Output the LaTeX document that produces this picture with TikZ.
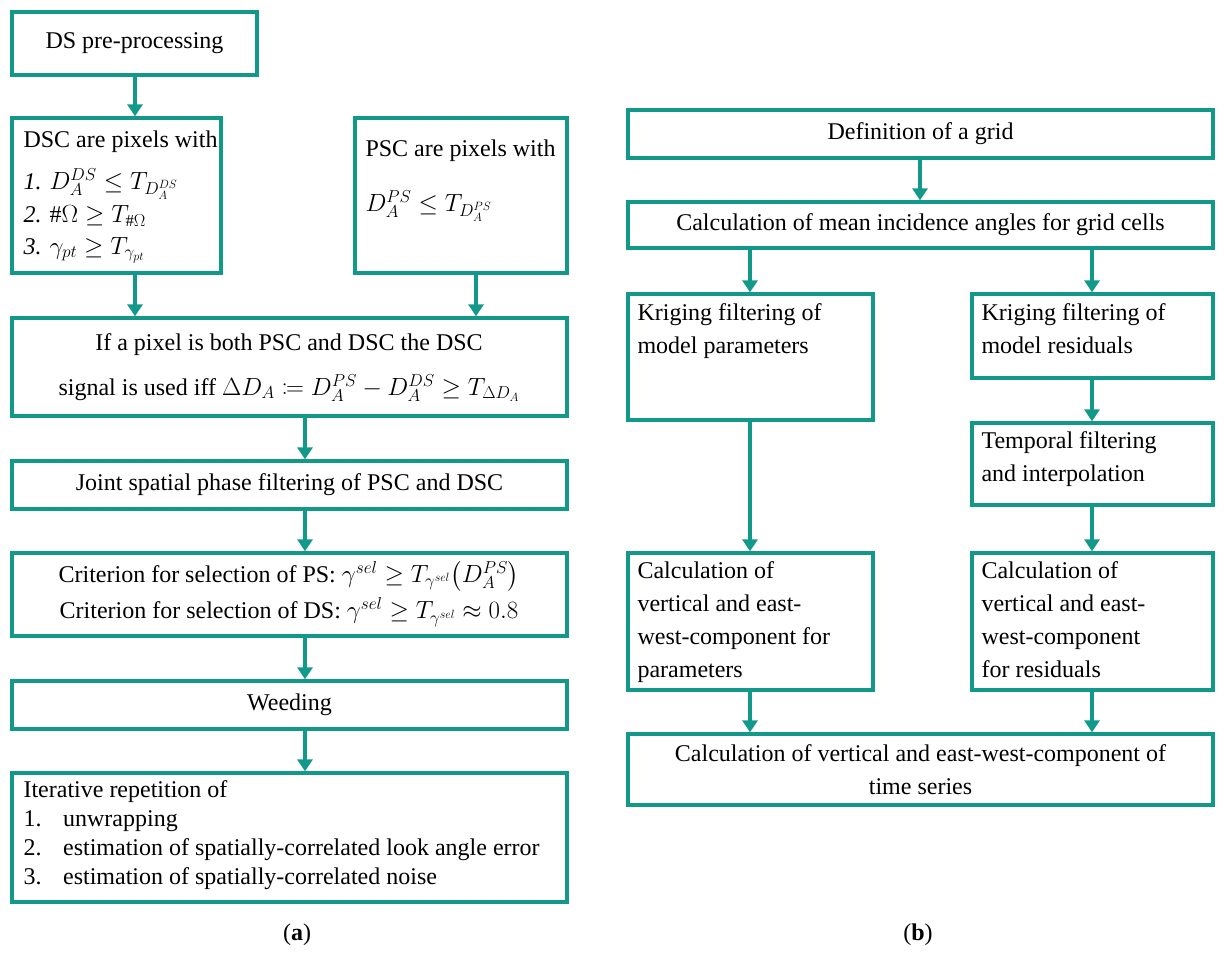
\documentclass[tikz,border=0pt]{standalone}
\usepackage{mathtools}
\usepackage{fontspec}
\setmainfont{Liberation Serif}
\usetikzlibrary{arrows.meta}
\definecolor{teal1}{HTML}{12998A}
\begin{document}
\begin{tikzpicture}[x=1pt,y=-1pt,
  box/.style={draw=teal1,line width=3.3pt,rectangle,inner sep=0pt},
  arr/.style={draw=teal1,line width=3.3pt,-{Triangle[length=12pt,width=15pt]}},
  t/.style={font=\fontsize{24}{33}\selectfont},
  lab/.style={font=\fontsize{24}{28}\selectfont}]
\useasboundingbox (0,0) rectangle (1224,953);
\newcommand{\bx}[5]{\node[box,minimum width={#4-#2},minimum height={#5-#3}] (#1) at ({(#2+#4)/2},{(#3+#5)/2}) {};}
% left
\bx{a1}{12}{12}{257}{75}
\node[t] (ta1) at (a1) {DS pre-processing};
\bx{a2}{12}{118}{221}{273}
\node[t,anchor=west] (ta2a) at (20,142) {DSC are pixels with};
\node[t,anchor=west] (ta2b) at (20,184) {\itshape 1. $D_A^{DS}\le T_{D_A^{DS}}$};
\node[t,anchor=west] (ta2c) at (20,216) {\itshape 2. $\#\Omega \ge T_{\#\Omega}$};
\node[t,anchor=west] (ta2d) at (20,250) {\itshape 3. $\gamma_{pt}\ge T_{\gamma_{pt}}$};
\bx{a3}{355}{118}{567}{273}
\node[t,anchor=west] (ta3a) at (362,151) {PSC are pixels with};
\node[t,anchor=west] (ta3b) at (362,206) {$D_A^{PS}\le T_{D_A^{PS}}$};
\bx{a4}{12}{318}{567}{416}
\node[t] (ta4a) at (289,345) {If a pixel is both PSC and DSC the DSC};
\node[t] (ta4b) at (289,388) {signal is used iff $\Delta D_A \coloneqq D_A^{PS}-D_A^{DS}\ge T_{\Delta D_A}$};
\bx{a5}{12}{461}{567}{509}
\node[t] (ta5) at (a5) {Joint spatial phase filtering of PSC and DSC};
\bx{a6}{12}{553}{567}{636}
\node[t] (ta6a) at (289,576) {Criterion for selection of PS: $\gamma^{sel}\ge T_{\gamma^{sel}}\bigl(D_A^{PS}\bigr)$};
\node[t] (ta6b) at (289,612) {Criterion for selection of DS: $\gamma^{sel}\ge T_{\gamma^{sel}}\approx 0.8$};
\bx{a7}{12}{681}{567}{729}
\node[t] (ta7) at (a7) {Weeding};
\bx{a8}{12}{773}{567}{902}
\node[t,anchor=north west,align=left,font=\fontsize{24}{29}\selectfont] (ta8) at (20,777) {Iterative repetition of\\
1.\hspace{0.9em}unwrapping\\
2.\hspace{0.9em}estimation of spatially-correlated look angle error\\
3.\hspace{0.9em}estimation of spatially-correlated noise};
\node[lab] (la) at (297,935) {(\textbf{a})};
% right
\bx{b1}{628}{110}{1213}{158}
\node[t] (tb1) at (b1) {Definition of a grid};
\bx{b2}{628}{202}{1213}{248}
\node[t] (tb2) at (b2) {Calculation of mean incidence angles for grid cells};
\bx{b3}{628}{294}{873}{420}
\node[t,anchor=north west,align=left] (tb3) at (634,300) {Kriging filtering of\\model parameters};
\bx{b4}{972}{294}{1213}{378}
\node[t,anchor=north west,align=left] (tb4) at (978,300) {Kriging filtering of\\model residuals};
\bx{b5}{972}{423}{1213}{505}
\node[t,anchor=north west,align=left] (tb5) at (978,428) {Temporal filtering\\and interpolation};
\bx{b6}{628}{553}{873}{690}
\node[t,anchor=north west,align=left] (tb6) at (634,558) {Calculation of\\vertical and east-\\west-component for\\parameters};
\bx{b7}{972}{553}{1213}{690}
\node[t,anchor=north west,align=left] (tb7) at (978,558) {Calculation of\\vertical and east-\\west-component\\for residuals};
\bx{b8}{628}{734}{1213}{805}
\node[t,align=center] (tb8) at (b8) {Calculation of vertical and east-west-component of\\time series};
\node[lab] (lb) at (918,935) {(\textbf{b})};
% arrows
\draw[arr] (a1.south -| 135,0) -- (a2.north -| 135,0);
\draw[arr] (a2.south -| 135,0) -- (a4.north -| 135,0);
\draw[arr] (a3.south -| 476,0) -- (a4.north -| 476,0);
\draw[arr] (a4.south -| 305,0) -- (a5.north -| 305,0);
\draw[arr] (a5.south -| 305,0) -- (a6.north -| 305,0);
\draw[arr] (a6.south -| 305,0) -- (a7.north -| 305,0);
\draw[arr] (a7.south -| 305,0) -- (a8.north -| 305,0);
\draw[arr] (b1.south -| 920,0) -- (b2.north -| 920,0);
\draw[arr] (b2.south -| 750,0) -- (b3.north -| 750,0);
\draw[arr] (b2.south -| 1092,0) -- (b4.north -| 1092,0);
\draw[arr] (b3.south -| 750,0) -- (b6.north -| 750,0);
\draw[arr] (b4.south -| 1092,0) -- (b5.north -| 1092,0);
\draw[arr] (b5.south -| 1092,0) -- (b7.north -| 1092,0);
\draw[arr] (b6.south -| 750,0) -- (b8.north -| 750,0);
\draw[arr] (b7.south -| 1092,0) -- (b8.north -| 1092,0);
\end{tikzpicture}
\end{document}
